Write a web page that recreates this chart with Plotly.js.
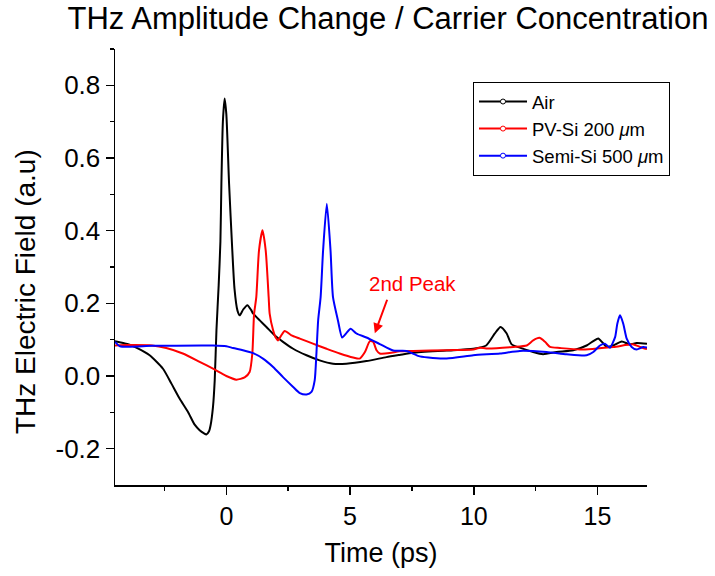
<!DOCTYPE html>
<html>
<head>
<meta charset="utf-8">
<script src="https://cdn.plot.ly/plotly-3.0.1.min.js"></script>
<style>html,body{margin:0;padding:0;background:#fff}#chart{width:715px;height:576px}</style>
</head>
<body>
<div id="chart"></div>
<script>
// Time (ps) and THz field (a.u.) for each series
const airTime = [-4.5,-4.0,-3.64,-3.1,-2.56,-2.22,-1.89,-1.55,-1.28,-1.08,-0.9,-0.81,-0.7,-0.635,-0.54,-0.47,-0.4,-0.31,-0.24,-0.2,-0.14,-0.07,0.0,0.11,0.24,0.33,0.45,0.54,0.68,0.85,1.0,1.08,1.35,1.62,1.95,2.29,2.7,3.24,3.77,4.31,4.85,5.66,6.47,7.0,7.55,8.9,9.98,10.5,10.85,11.08,11.33,11.53,11.86,12.4,12.8,13.35,14.02,14.56,14.85,15.03,15.2,15.37,15.64,15.98,16.3,16.58,17.0];
const airField = [0.096,0.088,0.078,0.057,0.02,-0.021,-0.062,-0.099,-0.134,-0.149,-0.158,-0.161,-0.152,-0.135,-0.085,-0.012,0.126,0.25,0.37,0.53,0.70,0.764,0.72,0.53,0.346,0.24,0.18,0.167,0.183,0.195,0.182,0.172,0.153,0.135,0.112,0.094,0.075,0.057,0.043,0.034,0.034,0.041,0.052,0.058,0.064,0.07,0.075,0.084,0.117,0.135,0.117,0.087,0.078,0.066,0.06,0.066,0.071,0.084,0.097,0.103,0.092,0.08,0.084,0.095,0.087,0.091,0.089];

const pvTime = [-4.5,-4.0,-3.0,-2.43,-1.76,-1.08,-0.54,0.0,0.4,0.74,0.94,1.05,1.12,1.21,1.32,1.46,1.59,1.71,1.75,1.89,2.0,2.09,2.22,2.36,2.63,2.97,3.5,4.05,4.58,5.12,5.39,5.6,5.8,5.93,6.07,6.2,6.6,7.0,7.55,8.9,9.98,10.25,10.5,11.6,12.14,12.4,12.65,12.88,13.08,13.48,14.29,15.64,16.45,16.72,17.0];
const pvField = [0.084,0.085,0.084,0.077,0.062,0.039,0.02,0.0,-0.01,-0.004,0.011,0.062,0.17,0.217,0.346,0.401,0.346,0.217,0.172,0.126,0.105,0.098,0.112,0.124,0.112,0.103,0.089,0.075,0.062,0.051,0.048,0.066,0.096,0.094,0.071,0.062,0.063,0.068,0.069,0.071,0.073,0.078,0.076,0.08,0.084,0.098,0.105,0.094,0.08,0.077,0.073,0.08,0.087,0.08,0.074];

const semiTime = [-4.5,-4.3,-3.0,-1.0,-0.54,0.0,0.27,0.67,1.08,1.48,1.89,2.29,2.7,2.97,3.24,3.44,3.57,3.64,3.71,3.81,3.91,4.06,4.21,4.31,4.51,4.68,4.85,5.02,5.26,5.66,6.2,6.74,7.28,7.82,8.9,9.98,11.06,11.86,12.94,13.75,14.56,14.83,15.1,15.3,15.5,15.71,15.8,15.91,16.04,16.18,16.38,16.58,16.85,17.0];
const semiField = [0.094,0.082,0.083,0.084,0.084,0.082,0.077,0.071,0.063,0.048,0.025,-0.003,-0.03,-0.047,-0.051,-0.044,-0.012,0.062,0.153,0.217,0.346,0.474,0.346,0.217,0.153,0.106,0.118,0.13,0.117,0.106,0.088,0.07,0.069,0.054,0.048,0.057,0.062,0.069,0.066,0.06,0.057,0.066,0.084,0.089,0.078,0.107,0.144,0.167,0.144,0.103,0.08,0.073,0.08,0.078];

const seriesNames = ['Air', 'PV-Si 200 <i>μ</i>m', 'Semi-Si 500 <i>μ</i>m'];
const seriesColors = ['#000000', '#ff0000', '#0000ff'];
const xTickVals = [0, 5, 10, 15];
const xTickText = ['0', '5', '10', '15'];
const yTickVals = [-0.2, 0.0, 0.2, 0.4, 0.6, 0.8];
const yTickText = ['-0.2', '0.0', '0.2', '0.4', '0.6', '0.8'];

const FONT = 'Arial, "Liberation Sans", sans-serif';
const xs = [airTime, pvTime, semiTime];
const ys = [airField, pvField, semiField];

const traces = [];
for (let i = 0; i < 3; i++) {
  traces.push({
    x: xs[i], y: ys[i], type: 'scatter', mode: 'lines',
    line: {color: seriesColors[i], width: 2, shape: 'spline', smoothing: 0.6},
    showlegend: false, hoverinfo: 'skip'
  });
}
for (let i = 0; i < 3; i++) {
  traces.push({
    x: [null], y: [null], type: 'scatter', mode: 'lines+markers',
    name: seriesNames[i],
    line: {color: seriesColors[i], width: 2},
    marker: {symbol: 'circle', size: 5, color: '#ffffff', line: {color: seriesColors[i], width: 1}},
    showlegend: true
  });
}

const layout = {
  width: 715, height: 576,
  margin: {l: 115, r: 68, t: 49, b: 91},
  paper_bgcolor: '#ffffff', plot_bgcolor: '#ffffff',
  font: {family: FONT, color: '#000000'},
  title: {text: 'THz Amplitude Change / Carrier Concentration', font: {size: 31, family: FONT, color: '#000'},
          x: 388/715, xref: 'container', xanchor: 'center', y: 1 - 18/576, yref: 'container', yanchor: 'middle'},
  xaxis: {
    range: [-4.5, 17], tickvals: xTickVals, ticktext: xTickText, ticks: 'outside', ticklen: 8, tickwidth: 1.5, tickcolor: '#000',
    showline: true, linecolor: '#000', linewidth: 1.5, showgrid: false, zeroline: false,
    tickfont: {size: 25, family: FONT},
    minor: {tickvals: [-2.5, 2.5, 7.5, 12.5], ticks: 'outside', ticklen: 4, tickwidth: 1.5, tickcolor: '#000', showgrid: false},
    title: {text: 'Time (ps)', font: {size: 27, family: FONT}, standoff: 14}
  },
  yaxis: {
    range: [-0.3, 0.9], tickvals: yTickVals, ticktext: yTickText, ticks: 'outside', ticklen: 8, tickwidth: 1.5, tickcolor: '#000',
    showline: true, linecolor: '#000', linewidth: 1.5, showgrid: false, zeroline: false,
    tickfont: {size: 26, family: FONT},
    minor: {tickvals: [-0.1, 0.1, 0.3, 0.5, 0.7, 0.9], ticks: 'outside', ticklen: 4, tickwidth: 1.5, tickcolor: '#000', showgrid: false}
  },
  legend: {
    x: (473-115)/532, y: (485-82)/436, xanchor: 'left', yanchor: 'top',
    bordercolor: '#000', borderwidth: 1, bgcolor: '#ffffff',
    font: {size: 18.5, family: FONT}, tracegroupgap: 0, itemwidth: 48
  },
  annotations: [
    {xref: 'paper', yref: 'paper', x: (25-115)/532, y: (485-292)/436, xanchor: 'center', yanchor: 'middle',
     text: 'THz Electric Field (a.u)', textangle: -90, showarrow: false, font: {size: 28, family: FONT}},
    {x: 7.53, y: 0.255, xref: 'x', yref: 'y', text: '2nd Peak', showarrow: false,
     font: {size: 20.5, family: FONT, color: '#ff0000'}},
    {x: 6.0, y: 0.1175, xref: 'x', yref: 'y', ax: 6.52, ay: 0.214, axref: 'x', ayref: 'y', text: '',
     showarrow: true, arrowhead: 2, arrowsize: 1, arrowwidth: 2, arrowcolor: '#ff0000'}
  ]
};

Plotly.newPlot('chart', traces, layout, {displayModeBar: false, staticPlot: true});
</script>
</body>
</html>
